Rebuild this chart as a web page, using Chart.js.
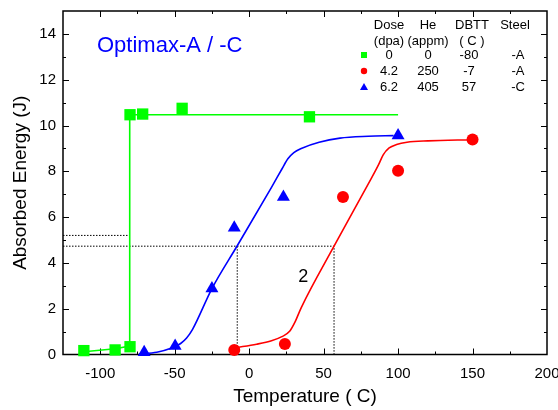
<!DOCTYPE html>
<html><head><meta charset="utf-8">
<script src="https://cdn.jsdelivr.net/npm/chart.js@4/dist/chart.umd.min.js"></script>
<style>html,body{margin:0;padding:0;background:#fff;}</style>
</head><body>
<canvas id="c" width="558" height="410"></canvas>
<script>
const FONT = '"Liberation Sans", Arial, sans-serif';

// ---- measured points ----
const greenX = [-111, -90, -80, -80, -71.5, -45, 40.5];
const greenY = [0.17, 0.2, 0.34, 10.47, 10.5, 10.75, 10.38];
const redX = [-10, 24, 63, 100, 150];
const redY = [0.2, 0.46, 6.88, 8.02, 9.39];
const blueX = [-70.5, -49.7, -25, -10, 23, 100];
const blueY = [0.1, 0.37, 2.88, 5.54, 6.88, 9.56];

// ---- fitted curves ----
const greenFitX = [-111, -90, -80.2, -80.2, 100];
const greenFitY = [0.12, 0.25, 0.37, 10.47, 10.47];
const redFitX = [-9, 5, 15, 22, 27, 31, 35, 57, 80, 87, 90, 94, 99, 106, 120, 150];
const redFitY = [0.3, 0.45, 0.6, 0.78, 1.0, 1.45, 2.05, 4.73, 7.45, 8.3, 8.72, 9.02, 9.17, 9.27, 9.33, 9.38];
const blueFitX = [-74, -62, -52, -46, -42, -38, -25, -8, 15, 22, 26, 30, 35, 47, 61, 80, 97];
const blueFitY = [0.02, 0.1, 0.28, 0.48, 0.72, 1.1, 2.88, 4.75, 7.3, 8.1, 8.55, 8.82, 9.0, 9.27, 9.45, 9.53, 9.56];

// ---- dotted guide lines ----
const guide1X = [-125, -80.2];
const guide1Y = [5.2, 5.2];
const guide2X = [-125, 57, 57];
const guide2Y = [4.73, 4.73, 0];
const guide3X = [-8, -8];
const guide3Y = [4.73, 0];

// ---- ticks ----
const xTicks = [-100, -50, 0, 50, 100, 150, 200];
const xMinor = [-125, -75, -25, 25, 75, 125, 175];
const yTicks = [0, 2, 4, 6, 8, 10, 12, 14];
const yMinor = [1, 3, 5, 7, 9, 11, 13, 15];

// ---- legend table ----
const legHead1 = ['Dose', 'He', 'DBTT', 'Steel'];
const legHead2 = ['(dpa)', '(appm)', '( C )', ''];
const legDose = ['0', '4.2', '6.2'];
const legHe = ['0', '250', '405'];
const legDbtt = ['-80', '-7', '57'];
const legSteel = ['-A', '-A', '-C'];

const titleText = 'Optimax-A / -C';
const annotText = '2';
const annotX = 36.4, annotY = 3.4;

const GREEN = '#00ff00', RED = '#ff0000', BLUE = '#0000ff';
const pts = (xs, ys) => xs.map((x, i) => ({x, y: ys[i]}));

const deco = {
  id: 'deco',
  beforeDatasetsDraw(chart) {
    const {ctx, scales: {x, y}} = chart;
    const L = x.getPixelForValue(x.min), R = x.getPixelForValue(x.max);
    const B = y.getPixelForValue(y.min), T = y.getPixelForValue(y.max);
    ctx.save();
    ctx.strokeStyle = '#000';
    ctx.lineWidth = 1;
    const tick = (vals, len) => {
      vals.forEach(v => {
        if (v <= x.min || v >= x.max) return;
        const px = Math.round(x.getPixelForValue(v)) + 0.5;
        ctx.beginPath();
        ctx.moveTo(px, B); ctx.lineTo(px, B - len);
        ctx.moveTo(px, T); ctx.lineTo(px, T + len);
        ctx.stroke();
      });
    };
    const ytick = (vals, len) => {
      vals.forEach(v => {
        if (v <= y.min || v >= y.max) return;
        const py = Math.round(y.getPixelForValue(v)) + 0.5;
        ctx.beginPath();
        ctx.moveTo(L, py); ctx.lineTo(L + len, py);
        ctx.moveTo(R, py); ctx.lineTo(R - len, py);
        ctx.stroke();
      });
    };
    tick(xTicks, 6); tick(xMinor, 3);
    ytick(yTicks, 6); ytick(yMinor, 3);
    ctx.lineWidth = 1.5;
    ctx.strokeRect(L, T, R - L, B - T);
    ctx.restore();
  },
  afterDatasetsDraw(chart) {
    const {ctx, scales: {x, y}} = chart;
    const L = x.getPixelForValue(x.min), R = x.getPixelForValue(x.max);
    const T = y.getPixelForValue(y.max);
    ctx.save();
    // annotation "2"
    ctx.fillStyle = '#000';
    ctx.font = '18px ' + FONT;
    ctx.textAlign = 'center'; ctx.textBaseline = 'middle';
    ctx.fillText(annotText, x.getPixelForValue(annotX), y.getPixelForValue(annotY));
    // title
    ctx.fillStyle = BLUE;
    ctx.font = '22px ' + FONT;
    ctx.textAlign = 'left'; ctx.textBaseline = 'alphabetic';
    ctx.fillText(titleText, L + 34, T + 41);
    // legend table
    ctx.fillStyle = '#000';
    ctx.font = '13px ' + FONT;
    ctx.textAlign = 'center'; ctx.textBaseline = 'middle';
    const cols = [R - 158, R - 119, R - 75, R - 32];
    const rows = [T + 14, T + 30, T + 44, T + 60, T + 76];
    legHead1.forEach((t, i) => ctx.fillText(t, cols[i], rows[0]));
    legHead2.forEach((t, i) => ctx.fillText(t, cols[i], rows[1]));
    for (let r = 0; r < 3; r++) {
      ctx.fillText(legDose[r], cols[0], rows[2 + r]);
      ctx.fillText(legHe[r], cols[1], rows[2 + r]);
      ctx.fillText(legDbtt[r], cols[2] - 3, rows[2 + r]);
      ctx.fillText(legSteel[r], cols[3] + 3, rows[2 + r]);
    }
    const mx = R - 183;
    ctx.fillStyle = GREEN;
    ctx.fillRect(mx - 3, rows[2] - 3, 6, 6);
    ctx.fillStyle = RED;
    ctx.beginPath(); ctx.arc(mx, rows[3], 3.2, 0, Math.PI * 2); ctx.fill();
    ctx.fillStyle = BLUE;
    ctx.beginPath(); ctx.moveTo(mx, rows[4] - 4); ctx.lineTo(mx + 4, rows[4] + 3); ctx.lineTo(mx - 4, rows[4] + 3); ctx.closePath(); ctx.fill();
    ctx.restore();
  }
};

const lineDs = (data, color, order, extra) => Object.assign({
  type: 'line', data, borderColor: color, borderWidth: 1.6, pointRadius: 0,
  fill: false, showLine: true, order
}, extra || {});
const pointDs = (data, color, style, r) => ({
  type: 'scatter', data, backgroundColor: color, borderColor: color, borderWidth: 0,
  pointStyle: style, pointRadius: r, showLine: false, order: 1, clip: false
});

new Chart(document.getElementById('c'), {
  type: 'scatter',
  data: {
    datasets: [
      pointDs(pts(greenX, greenY), GREEN, 'rect', 8),
      pointDs(pts(redX, redY), RED, 'circle', 6),
      pointDs(pts(blueX, blueY), BLUE, 'triangle', 7.5),
      lineDs(pts(greenFitX, greenFitY), GREEN, 3, {tension: 0}),
      lineDs(pts(redFitX, redFitY), RED, 3, {cubicInterpolationMode: 'monotone'}),
      lineDs(pts(blueFitX, blueFitY), BLUE, 3, {cubicInterpolationMode: 'monotone'}),
      lineDs(pts(guide1X, guide1Y), '#000', 5, {borderWidth: 1, borderDash: [1.5, 1.5], tension: 0}),
      lineDs(pts(guide2X, guide2Y), '#000', 5, {borderWidth: 1, borderDash: [1.5, 1.5], tension: 0}),
      lineDs(pts(guide3X, guide3Y), '#000', 5, {borderWidth: 1, borderDash: [1.5, 1.5], tension: 0})
    ]
  },
  options: {
    responsive: false,
    animation: false,
    devicePixelRatio: 1,
    layout: {padding: {left: 0, top: 11, right: 11, bottom: 0}},
    plugins: {legend: {display: false}, tooltip: {enabled: false}},
    scales: {
      x: {
        type: 'linear', min: -125, max: 200,
        afterBuildTicks: s => { s.ticks = xTicks.map(v => ({value: v})); },
        afterFit: s => { s.height = 55.5; s.paddingLeft = 0; s.paddingRight = 0; },
        grid: {display: false, drawTicks: false},
        border: {display: false},
        ticks: {color: '#000', font: {family: FONT, size: 15}, padding: 10, maxRotation: 0},
        title: {display: true, text: 'Temperature ( C)', color: '#000', font: {family: FONT, size: 19}, padding: {top: 0, bottom: 2}}
      },
      y: {
        type: 'linear', min: 0, max: 15,
        afterBuildTicks: s => { s.ticks = yTicks.map(v => ({value: v})); },
        afterFit: s => { s.width = 63; s.paddingTop = 0; s.paddingBottom = 0; },
        grid: {display: false, drawTicks: false},
        border: {display: false},
        ticks: {color: '#000', font: {family: FONT, size: 15}, padding: 7},
        title: {display: true, text: 'Absorbed Energy (J)', color: '#000', font: {family: FONT, size: 19}, padding: {top: 9, bottom: 0}}
      }
    }
  },
  plugins: [deco]
});
</script>
</body></html>
